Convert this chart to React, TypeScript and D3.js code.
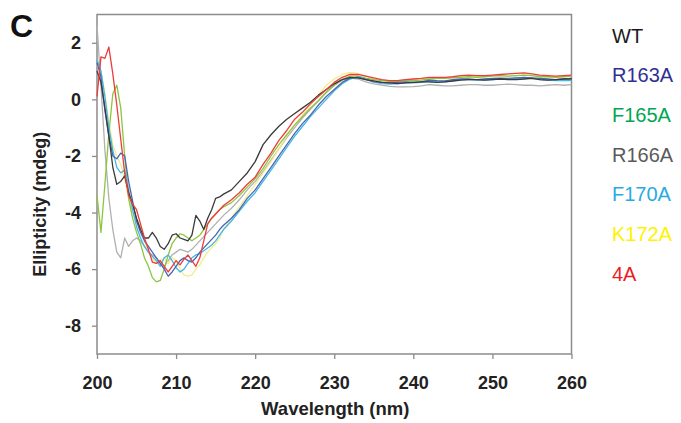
import React, { useEffect, useRef } from "react";
import * as d3 from "d3";

// wavelength (nm): 0.5 nm steps through the noisy part, 1 nm after
const wavelengths = [
  200, 200.5, 201, 201.5, 202, 202.5, 203, 203.5, 204, 204.5, 205, 205.5, 206, 206.5, 207, 207.5,
  208, 208.5, 209, 209.5, 210, 210.5, 211, 211.5, 212, 212.5, 213, 213.5, 214, 214.5, 215, 215.5, 216,
  217, 218, 219, 220, 221, 222, 223, 224, 225, 226, 227, 228, 229, 230, 231, 232, 233, 234, 235, 236,
  237, 238, 239, 240, 241, 242, 243, 244, 245, 246, 247, 248, 249, 250, 251, 252, 253, 254, 255, 256,
  257, 258, 259, 260,
];

const wt = [
  1.0, 0.6, -0.3, -1.3, -2.4, -3.0, -2.9, -2.7, -3.3, -3.7, -4.2, -4.6, -4.9, -4.9, -4.7, -4.9,
  -5.2, -5.3, -5.1, -4.8, -4.75, -4.9, -4.95, -5.0, -4.8, -4.1, -4.3, -4.6, -4.2, -3.9, -3.5, -3.45, -3.35,
  -3.2, -2.9, -2.6, -2.2, -1.6, -1.25, -0.95, -0.7, -0.5, -0.3, -0.1, 0.15, 0.35, 0.55, 0.7, 0.78, 0.76, 0.7, 0.65, 0.6,
  0.58, 0.56, 0.58, 0.6, 0.62, 0.62, 0.6, 0.62, 0.65, 0.68, 0.7, 0.7, 0.68, 0.7, 0.72, 0.7, 0.7, 0.72, 0.74, 0.7,
  0.68, 0.7, 0.72, 0.72,
];
const r163a = [
  1.3, 0.8, -0.4, -1.3, -2.0, -2.1, -1.9, -2.0, -2.9, -3.6, -4.3, -4.7, -5.0, -5.2, -5.4, -5.6,
  -5.8, -6.0, -6.25, -6.1, -5.9, -5.7, -5.6, -5.7, -5.75, -5.6, -5.4, -5.25, -5.1, -4.95, -4.8, -4.6, -4.45,
  -4.2, -3.9, -3.5, -3.2, -2.8, -2.4, -2.0, -1.6, -1.2, -0.85, -0.55, -0.2, 0.1, 0.35, 0.6, 0.75, 0.78, 0.7, 0.62, 0.6,
  0.58, 0.6, 0.62, 0.6, 0.62, 0.68, 0.66, 0.65, 0.7, 0.72, 0.72, 0.7, 0.72, 0.74, 0.75, 0.74, 0.76, 0.78, 0.76, 0.74,
  0.72, 0.7, 0.72, 0.74,
];
const f165a = [
  -3.4, -4.7, -3.0, -1.2, 0.2, 0.5, -0.3, -2.0, -3.5, -4.2, -4.7, -5.1, -5.6, -5.9, -6.3, -6.45,
  -6.4, -6.0, -5.5, -5.1, -4.9, -4.75, -4.8, -4.9, -5.0, -4.9, -4.8, -4.6, -4.4, -4.2, -4.05, -3.9, -3.8,
  -3.65, -3.4, -3.1, -2.8, -2.45, -2.0, -1.6, -1.25, -0.9, -0.6, -0.3, -0.05, 0.25, 0.5, 0.7, 0.82, 0.82, 0.75, 0.7, 0.66,
  0.64, 0.64, 0.66, 0.66, 0.68, 0.72, 0.74, 0.74, 0.76, 0.78, 0.8, 0.78, 0.8, 0.82, 0.84, 0.82, 0.84, 0.86, 0.84, 0.8,
  0.8, 0.78, 0.8, 0.82,
];
const r166a = [
  2.6, 0.5, -1.8, -3.5, -4.6, -5.4, -5.6, -4.9, -5.2, -5.0, -4.9, -5.0, -5.2, -5.4, -5.5, -5.6,
  -5.8, -5.9, -5.7, -5.5, -5.4, -5.3, -5.35, -5.4, -5.3, -5.15, -5.0, -4.85, -4.7, -4.55, -4.4, -4.25, -4.1,
  -3.85, -3.55, -3.2, -2.9, -2.55, -2.15, -1.75, -1.35, -1.0, -0.65, -0.35, -0.05, 0.25, 0.5, 0.68, 0.75, 0.72, 0.62, 0.55, 0.5,
  0.46, 0.44, 0.44, 0.45, 0.48, 0.52, 0.5, 0.48, 0.48, 0.5, 0.52, 0.52, 0.5, 0.5, 0.52, 0.54, 0.52, 0.5, 0.5, 0.48,
  0.5, 0.52, 0.5, 0.52,
];
const f170a = [
  1.4, 1.0, 0.1, -1.0, -1.8, -2.4, -2.6, -2.5, -3.2, -3.9, -4.5, -4.9, -5.2, -5.4, -5.55, -5.7,
  -5.9, -5.6, -5.5, -5.7, -5.95, -6.1, -6.0, -5.8, -5.6, -5.5, -5.45, -5.35, -5.25, -5.15, -5.0, -4.8, -4.6,
  -4.3, -3.95, -3.6, -3.3, -2.9, -2.5, -2.1, -1.7, -1.3, -0.95, -0.6, -0.3, 0.0, 0.3, 0.55, 0.72, 0.8, 0.72, 0.62, 0.56,
  0.54, 0.56, 0.58, 0.58, 0.6, 0.64, 0.62, 0.62, 0.66, 0.7, 0.7, 0.68, 0.68, 0.7, 0.72, 0.72, 0.74, 0.76, 0.74, 0.7,
  0.68, 0.66, 0.66, 0.66,
];
const k172a = [
  1.2, 1.0, 0.2, -0.8, -1.6, -2.0, -2.3, -2.8, -3.5, -4.0, -4.3, -4.5, -5.0, -5.4, -5.6, -5.8,
  -5.7, -5.6, -5.8, -5.6, -5.7, -6.0, -6.2, -6.25, -6.2, -6.0, -5.85, -5.6, -5.4, -5.25, -5.1, -4.9, -4.6,
  -4.2, -3.8, -3.4, -3.0, -2.6, -2.2, -1.75, -1.3, -0.9, -0.55, -0.2, 0.15, 0.5, 0.72, 0.88, 0.95, 0.92, 0.82, 0.72, 0.66,
  0.64, 0.66, 0.7, 0.7, 0.72, 0.76, 0.76, 0.76, 0.78, 0.8, 0.82, 0.8, 0.82, 0.84, 0.84, 0.82, 0.84, 0.86, 0.84, 0.82,
  0.8, 0.8, 0.82, 0.84,
];
const a4 = [
  0.1, 1.5, 1.45, 1.85, 0.9, -0.2, -1.4, -2.6, -3.4, -3.7, -3.9, -4.4, -4.9, -5.3, -5.75, -5.8,
  -5.7, -5.9, -6.1, -5.9, -5.7, -5.85, -5.65, -5.5, -5.7, -5.9, -5.6, -5.0, -4.4, -4.2, -4.05, -3.9, -3.75,
  -3.55, -3.3, -3.0, -2.75, -2.3, -1.9, -1.45, -1.1, -0.7, -0.45, -0.15, 0.1, 0.35, 0.6, 0.78, 0.88, 0.88, 0.82, 0.76, 0.7,
  0.66, 0.66, 0.7, 0.72, 0.74, 0.78, 0.78, 0.78, 0.8, 0.84, 0.86, 0.84, 0.84, 0.86, 0.88, 0.9, 0.92, 0.94, 0.9, 0.86,
  0.84, 0.82, 0.84, 0.86,
];

const names = ["WT", "R163A", "F165A", "R166A", "F170A", "K172A", "4A"];
const seriesValues = [wt, r163a, f165a, r166a, f170a, k172a, a4];
const lineColors = ["#3a3a3a", "#4867b0", "#8cc63f", "#b0b0b0", "#45b6e6", "#f3ec8c", "#ee3b3b"];
const labelColors = ["#1a1a1a", "#2e3192", "#00a651", "#5a5a5a", "#29abe2", "#fff200", "#ed1c24"];
const drawOrder = [3, 5, 2, 4, 1, 0, 6];

const xTicks = [200, 210, 220, 230, 240, 250, 260];
const yTicks = [-8, -6, -4, -2, 0, 2];

const W = 681,
  H = 423;
const margin = { left: 97, right: 571.5, top: 14.5, bottom: 354 };

const drawChart = (svgRef) => {
  const svg = d3.select(svgRef.current);
  svg.selectAll("*").remove();

  const x = d3.scaleLinear().domain([200, 260]).range([margin.left, margin.right]);
  const y = d3.scaleLinear().domain([-9, 3]).range([margin.bottom, margin.top]);

  const sans = "'Liberation Sans', Arial, Helvetica, sans-serif";

  // frame
  svg
    .append("rect")
    .attr("x", margin.left)
    .attr("y", margin.top)
    .attr("width", margin.right - margin.left)
    .attr("height", margin.bottom - margin.top)
    .attr("fill", "none")
    .attr("stroke", "#8c8c8c")
    .attr("stroke-width", 1.5);

  const line = d3
    .line()
    .x((d, i) => x(wavelengths[i]))
    .y((d) => y(d));

  drawOrder.forEach((k) => {
    svg
      .append("path")
      .datum(seriesValues[k])
      .attr("d", line)
      .attr("fill", "none")
      .attr("stroke", lineColors[k])
      .attr("stroke-width", 1.3)
      .attr("stroke-linejoin", "round");
  });

  const fmt = (d) => String(d); // plain hyphen minus like the original

  // x axis
  const xAxis = svg
    .append("g")
    .attr("transform", `translate(0,${margin.bottom})`)
    .call(d3.axisBottom(x).tickValues(xTicks).tickSize(5).tickPadding(17).tickFormat(fmt));
  xAxis.select(".domain").remove();
  xAxis.selectAll("line").attr("stroke", "#8c8c8c").attr("stroke-width", 1.3);
  xAxis
    .selectAll("text")
    .attr("fill", "#222")
    .style("font-family", sans)
    .style("font-weight", "bold")
    .style("font-size", "18px");

  // y axis
  const yAxis = svg
    .append("g")
    .attr("transform", `translate(${margin.left},0)`)
    .call(d3.axisLeft(y).tickValues(yTicks).tickSize(5).tickPadding(11).tickFormat(fmt));
  yAxis.select(".domain").remove();
  yAxis.selectAll("line").attr("stroke", "#8c8c8c").attr("stroke-width", 1.3);
  yAxis
    .selectAll("text")
    .attr("fill", "#222")
    .style("font-family", sans)
    .style("font-weight", "bold")
    .style("font-size", "18px");

  // titles
  svg
    .append("text")
    .attr("x", (margin.left + margin.right) / 2 + 1)
    .attr("y", 415)
    .attr("text-anchor", "middle")
    .attr("fill", "#222")
    .style("font-family", sans)
    .style("font-weight", "bold")
    .style("font-size", "18.5px")
    .text("Wavelength (nm)");

  svg
    .append("text")
    .attr("transform", `translate(46,${(margin.top + margin.bottom) / 2 + 20}) rotate(-90)`)
    .attr("text-anchor", "middle")
    .attr("fill", "#222")
    .style("font-family", sans)
    .style("font-weight", "bold")
    .style("font-size", "18px")
    .text("Ellipticity (mdeg)");

  svg
    .append("text")
    .attr("x", 10)
    .attr("y", 37)
    .attr("fill", "#111")
    .style("font-family", sans)
    .style("font-weight", "bold")
    .style("font-size", "32px")
    .text("C");

  // legend
  names.forEach((n, i) => {
    svg
      .append("text")
      .attr("x", 612)
      .attr("y", 42.5 + i * 39.7)
      .attr("fill", labelColors[i])
      .style("font-family", sans)
      .style("font-size", "20px")
      .text(n);
  });
};

const App = () => {
  const svg = useRef(null);

  useEffect(() => {
    drawChart(svg);
  }, []);

  return (
    <svg
      ref={svg}
      width={W}
      height={H}
      style={{ position: "absolute", left: 0, top: 0, background: "#fff" }}
    />
  );
};

export default App;
